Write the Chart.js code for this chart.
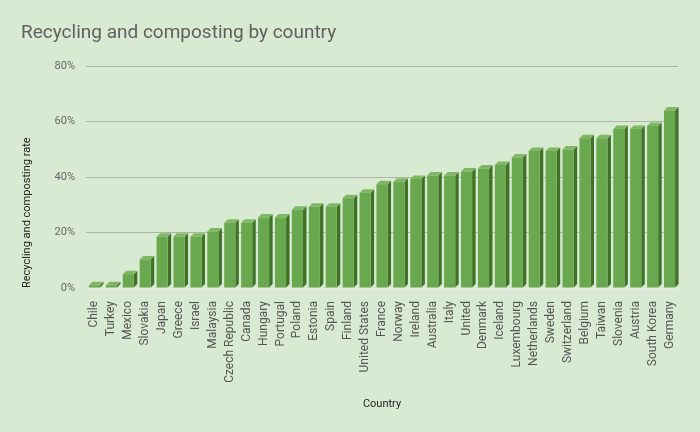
<!DOCTYPE html>
<html>
<head>
<meta charset="utf-8">
<script src="https://cdn.jsdelivr.net/npm/chart.js@4"></script>
<style>
  body { margin: 0; background: #d9ead3; }
  #wrap { width: 700px; height: 432px; }
</style>
</head>
<body>
<div id="wrap"><canvas id="chart" width="700" height="432"></canvas></div>
<script>
const countries = ['Chile', 'Turkey', 'Mexico', 'Slovakia', 'Japan', 'Greece', 'Israel', 'Malaysia',
  'Czech Republic', 'Canada', 'Hungary', 'Portugal', 'Poland', 'Estonia', 'Spain', 'Finland',
  'United States', 'France', 'Norway', 'Ireland', 'Australia', 'Italy', 'United', 'Denmark',
  'Iceland', 'Luxembourg', 'Netherlands', 'Sweden', 'Switzerland', 'Belgium', 'Taiwan',
  'Slovenia', 'Austria', 'South Korea', 'Germany'];
const rates = [1, 1, 5, 10.3, 18.5, 18.5, 18.5, 20.4, 23.5, 23.5, 25.4, 25.4, 28.2, 29.3, 29.3, 32.3,
  34.3, 37.4, 38.3, 39.3, 40.5, 40.5, 42, 43.1, 44.3, 47, 49.4, 49.4, 49.9, 54, 54,
  57.3, 57.3, 58.4, 64];
const yTicks = [0, 20, 40, 60, 80];

// fake 3D: side + top faces behind each bar, light floor under the base line
const depth = 3.5;
const bars3d = {
  id: 'bars3d',
  beforeDatasetsDraw(chart) {
    const ctx = chart.ctx;
    const area = chart.chartArea;
    ctx.save();
    ctx.fillStyle = '#e4ece1';
    ctx.fillRect(area.left, area.bottom, area.right - area.left, 3);
    chart.getDatasetMeta(0).data.forEach(bar => {
      const half = bar.width / 2;
      const r = bar.x + half, l = bar.x - half;
      ctx.fillStyle = '#3f7227';
      ctx.beginPath();
      ctx.moveTo(r, bar.y);
      ctx.lineTo(r + depth, bar.y - depth);
      ctx.lineTo(r + depth, bar.base - depth);
      ctx.lineTo(r, bar.base);
      ctx.closePath();
      ctx.fill();
      ctx.fillStyle = '#7fb864';
      ctx.beginPath();
      ctx.moveTo(l, bar.y);
      ctx.lineTo(l + depth, bar.y - depth);
      ctx.lineTo(r + depth, bar.y - depth);
      ctx.lineTo(r, bar.y);
      ctx.closePath();
      ctx.fill();
    });
    ctx.restore();
  }
};

new Chart(document.getElementById('chart'), {
  type: 'bar',
  data: {
    labels: countries,
    datasets: [{
      label: 'Recycling and composting rate',
      data: rates,
      backgroundColor: '#6aa84f',
      borderWidth: 0,
      barPercentage: 0.82,
      categoryPercentage: 0.8
    }]
  },
  options: {
    responsive: false,
    animation: false,
    layout: { padding: { left: 21, right: 22, top: 0, bottom: 0 } },
    plugins: {
      legend: { display: false },
      tooltip: { enabled: false },
      title: {
        display: true,
        text: 'Recycling and composting by country',
        align: 'start',
        color: '#606060',
        font: { family: 'Roboto', size: 19, weight: 'normal', lineHeight: 1.2 },
        padding: { top: 21.5, bottom: 21.7 }
      }
    },
    scales: {
      x: {
        grid: { display: false },
        border: { display: false },
        ticks: {
          autoSkip: false,
          minRotation: 90,
          maxRotation: 90,
          padding: 5,
          color: '#555555',
          font: { family: 'Roboto', size: 12 }
        },
        title: {
          display: true,
          text: 'Country',
          color: '#222222',
          font: { family: 'Roboto', size: 11 },
          padding: { top: 0, bottom: 21 }
        },
        afterFit(scale) { scale.height = 144; }
      },
      y: {
        min: 0,
        max: 80,
        afterBuildTicks(scale) { scale.ticks = yTicks.map(v => ({ value: v })); },
        grid: {
          drawTicks: false,
          color: ctx => ctx.tick && ctx.tick.value === 0 ? '#4a4a4a' : '#a9b6a3'
        },
        border: { display: false },
        ticks: {
          padding: 11,
          color: '#666666',
          font: { family: 'Roboto', size: 11 },
          callback: v => v + '%'
        },
        title: {
          display: true,
          text: 'Recycling and composting rate',
          align: 'start',
          color: '#222222',
          font: { family: 'Roboto', size: 11 },
          padding: { top: 0, bottom: 0 }
        },
        afterFit(scale) { scale.width = 65; }
      }
    }
  },
  plugins: [bars3d]
});
</script>
</body>
</html>
